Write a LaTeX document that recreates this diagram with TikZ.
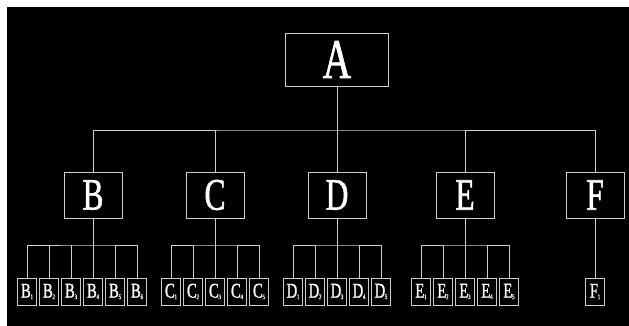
\documentclass[tikz,border=0pt]{standalone}
\usepackage{fontspec}
\newfontfamily\narrowserif[FakeStretch=0.7,FakeBold=1.2]{Liberation Serif}
\definecolor{linegray}{RGB}{205,205,205}
\newcommand{\leaf}[2]{#1\kern-0.3pt\raisebox{-1.5pt}{\fontsize{7}{7}\selectfont #2}}

\begin{document}
\begin{tikzpicture}[x=1pt, y=-1pt,
    wire/.style={draw=linegray, line width=0.9pt},
    topbox/.style={wire, minimum width=103pt, minimum height=53pt, inner sep=0pt, text=white, font=\narrowserif\fontsize{56}{56}\selectfont},
    midbox/.style={wire, minimum width=58pt, minimum height=46pt, inner sep=0pt, text=white, font=\narrowserif\fontsize{45}{45}\selectfont},
    leafbox/.style={wire, minimum width=19pt, minimum height=27pt, inner sep=0pt, text=white, font=\narrowserif\fontsize{21}{21}\selectfont}]
    \useasboundingbox (0,0) rectangle (629,326);
    \fill[white] (0,0) rectangle (629,326);
    \fill[black] (7,7) rectangle (629,326);
    % top level
    \node[topbox] (A) at (337,59.5) {A};
    \node[midbox] (B) at (93,195) {B};
    \node[midbox] (C) at (215,195) {C};
    \node[midbox] (D) at (337,195) {D};
    \node[midbox] (E) at (465,195) {E};
    \node[midbox] (F) at (595,195) {F};
    \coordinate (bus) at (337,130);
    \draw[wire] (A.south) -- (D.north);
    \draw[wire] (B.north) |- (bus) -| (F.north);
    \draw[wire] (C.north) -- (C.north |- bus);
    \draw[wire] (E.north) -- (E.north |- bus);
    % B group
    \node[leafbox] (b1) at (27,291.5) {\leaf{B}{1}};
    \node[leafbox] (b2) at (49,291.5) {\leaf{B}{2}};
    \node[leafbox] (b3) at (71,291.5) {\leaf{B}{3}};
    \node[leafbox] (b4) at (93,291.5) {\leaf{B}{4}};
    \node[leafbox] (b5) at (115,291.5) {\leaf{B}{5}};
    \node[leafbox] (b6) at (137,291.5) {\leaf{B}{6}};
    \coordinate (busB) at (93,245);
    \draw[wire] (B.south) -- (b4.north);
    \draw[wire] (b1.north) |- (busB) -| (b6.north);
    \draw[wire] (b2.north) -- (b2.north |- busB);
    \draw[wire] (b3.north) -- (b3.north |- busB);
    \draw[wire] (b5.north) -- (b5.north |- busB);
    % C group
    \node[leafbox] (c1) at (171,291.5) {\leaf{C}{1}};
    \node[leafbox] (c2) at (193,291.5) {\leaf{C}{2}};
    \node[leafbox] (c3) at (215,291.5) {\leaf{C}{3}};
    \node[leafbox] (c4) at (237,291.5) {\leaf{C}{4}};
    \node[leafbox] (c5) at (259,291.5) {\leaf{C}{5}};
    \coordinate (busC) at (215,245);
    \draw[wire] (C.south) -- (c3.north);
    \draw[wire] (c1.north) |- (busC) -| (c5.north);
    \draw[wire] (c2.north) -- (c2.north |- busC);
    \draw[wire] (c4.north) -- (c4.north |- busC);
    % D group
    \node[leafbox] (d1) at (293,291.5) {\leaf{D}{1}};
    \node[leafbox] (d2) at (315,291.5) {\leaf{D}{2}};
    \node[leafbox] (d3) at (337,291.5) {\leaf{D}{3}};
    \node[leafbox] (d4) at (359,291.5) {\leaf{D}{4}};
    \node[leafbox] (d5) at (381,291.5) {\leaf{D}{5}};
    \coordinate (busD) at (337,245);
    \draw[wire] (D.south) -- (d3.north);
    \draw[wire] (d1.north) |- (busD) -| (d5.north);
    \draw[wire] (d2.north) -- (d2.north |- busD);
    \draw[wire] (d4.north) -- (d4.north |- busD);
    % E group
    \node[leafbox] (e1) at (421,291.5) {\leaf{E}{1}};
    \node[leafbox] (e2) at (443,291.5) {\leaf{E}{2}};
    \node[leafbox] (e3) at (465,291.5) {\leaf{E}{3}};
    \node[leafbox] (e4) at (487,291.5) {\leaf{E}{4}};
    \node[leafbox] (e5) at (509,291.5) {\leaf{E}{5}};
    \coordinate (busE) at (465,245);
    \draw[wire] (E.south) -- (e3.north);
    \draw[wire] (e1.north) |- (busE) -| (e5.north);
    \draw[wire] (e2.north) -- (e2.north |- busE);
    \draw[wire] (e4.north) -- (e4.north |- busE);
    % F group
    \node[leafbox] (f1) at (595,291.5) {\leaf{F}{1}};
    \draw[wire] (F.south) -- (f1.north);
\end{tikzpicture}
\end{document}
